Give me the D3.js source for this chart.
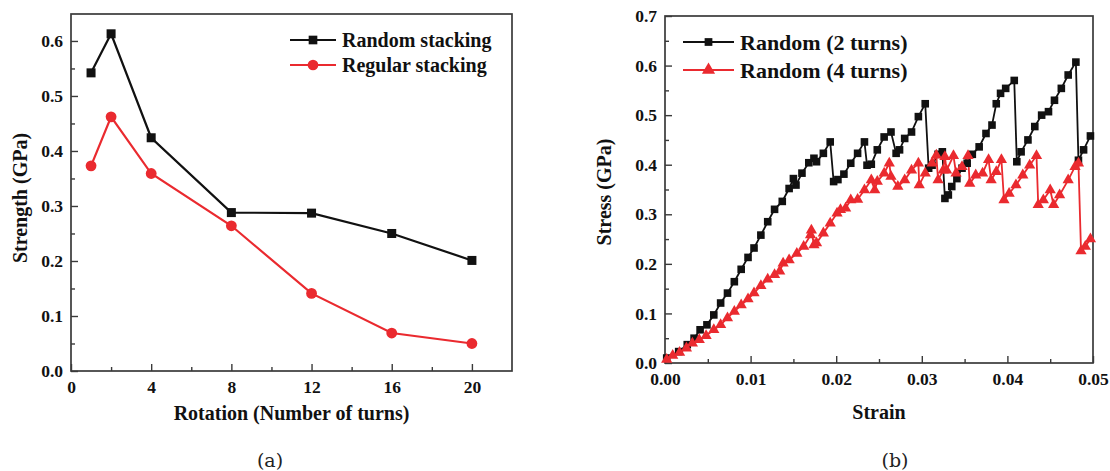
<!DOCTYPE html>
<html>
<head>
<meta charset="utf-8">
<script src="https://cdn.jsdelivr.net/npm/d3@7"></script>
<style>
  body { margin: 0; background: #fff; }
  svg { display: block; }
</style>
</head>
<body>
<script>
'use strict';

// ---- panel (a): strength vs number of turns ----
const turns = [1, 2, 4, 8, 12, 16, 20];
const randomStacking = [0.542, 0.613, 0.424, 0.288, 0.287, 0.250, 0.201];
const regularStacking = [0.373, 0.462, 0.359, 0.264, 0.141, 0.069, 0.050];
const turnTicks = [0, 4, 8, 12, 16, 20];
const turnMinorTicks = [2, 6, 10, 14, 18];
const strengthTicks = [0, 0.1, 0.2, 0.3, 0.4, 0.5, 0.6];
const strengthMinorTicks = [0.05, 0.15, 0.25, 0.35, 0.45, 0.55];

// ---- panel (b): stress-strain, [strain, stress GPa] ----
const random2Turns = [
  [0.0002, 0.010], [0.0016, 0.023], [0.0026, 0.037], [0.0034, 0.050], [0.0041, 0.067],
  [0.0049, 0.077], [0.0057, 0.097], [0.0065, 0.121], [0.0073, 0.141], [0.0081, 0.164],
  [0.0089, 0.189], [0.0097, 0.213], [0.0104, 0.232], [0.0112, 0.258], [0.0120, 0.285],
  [0.0128, 0.310], [0.0137, 0.326], [0.0145, 0.352], [0.0150, 0.372], [0.0153, 0.359],
  [0.0160, 0.383], [0.0168, 0.404], [0.0174, 0.413], [0.0177, 0.406], [0.0185, 0.423],
  [0.0193, 0.446], [0.0197, 0.366], [0.0202, 0.370], [0.0209, 0.381], [0.0217, 0.403],
  [0.0225, 0.423], [0.0233, 0.446], [0.0236, 0.399], [0.0241, 0.401], [0.0248, 0.430],
  [0.0256, 0.456], [0.0264, 0.466], [0.0270, 0.423], [0.0274, 0.430], [0.0280, 0.453],
  [0.0288, 0.466], [0.0296, 0.497], [0.0304, 0.523], [0.0308, 0.393], [0.0312, 0.399],
  [0.0319, 0.421], [0.0324, 0.426], [0.0327, 0.332], [0.0331, 0.339], [0.0335, 0.356],
  [0.0341, 0.372], [0.0347, 0.393], [0.0353, 0.403], [0.0359, 0.421], [0.0367, 0.436],
  [0.0375, 0.463], [0.0382, 0.480], [0.0387, 0.523], [0.0392, 0.544], [0.0398, 0.554],
  [0.0408, 0.570], [0.0411, 0.406], [0.0416, 0.426], [0.0424, 0.450], [0.0432, 0.477],
  [0.0440, 0.500], [0.0448, 0.507], [0.0455, 0.530], [0.0463, 0.554], [0.0471, 0.581],
  [0.0480, 0.607], [0.0483, 0.409], [0.0489, 0.430], [0.0497, 0.458]
];
const random4Turns = [
  [0.0002, 0.007], [0.0009, 0.015], [0.0017, 0.021], [0.0025, 0.030], [0.0032, 0.040],
  [0.0040, 0.047], [0.0048, 0.055], [0.0057, 0.067], [0.0065, 0.077], [0.0073, 0.091],
  [0.0081, 0.104], [0.0089, 0.117], [0.0097, 0.129], [0.0104, 0.141], [0.0112, 0.156],
  [0.0120, 0.169], [0.0128, 0.178], [0.0134, 0.185], [0.0138, 0.201], [0.0145, 0.208],
  [0.0154, 0.221], [0.0162, 0.235], [0.0170, 0.258], [0.0171, 0.268], [0.0174, 0.238],
  [0.0177, 0.242], [0.0185, 0.262], [0.0193, 0.282], [0.0201, 0.302], [0.0205, 0.309],
  [0.0211, 0.312], [0.0217, 0.329], [0.0225, 0.330], [0.0233, 0.349], [0.0241, 0.369],
  [0.0245, 0.349], [0.0248, 0.366], [0.0256, 0.383], [0.0262, 0.403], [0.0264, 0.376],
  [0.0272, 0.356], [0.0280, 0.369], [0.0288, 0.389], [0.0296, 0.403], [0.0297, 0.359],
  [0.0304, 0.383], [0.0312, 0.403], [0.0317, 0.419], [0.0319, 0.369], [0.0325, 0.389],
  [0.0327, 0.416], [0.0329, 0.389], [0.0337, 0.418], [0.0340, 0.383], [0.0347, 0.396],
  [0.0354, 0.418], [0.0356, 0.362], [0.0363, 0.379], [0.0371, 0.383], [0.0378, 0.410],
  [0.0381, 0.369], [0.0387, 0.386], [0.0393, 0.410], [0.0396, 0.329], [0.0402, 0.342],
  [0.0410, 0.359], [0.0418, 0.379], [0.0426, 0.399], [0.0434, 0.418], [0.0436, 0.319],
  [0.0442, 0.329], [0.0450, 0.349], [0.0454, 0.319], [0.0461, 0.339], [0.0471, 0.369],
  [0.0479, 0.396], [0.0483, 0.403], [0.0486, 0.226], [0.0491, 0.235], [0.0497, 0.250]
];
const strainTicks = [0, 0.01, 0.02, 0.03, 0.04, 0.05];
const strainMinorTicks = [0.005, 0.015, 0.025, 0.035, 0.045];
const stressTicks = [0, 0.1, 0.2, 0.3, 0.4, 0.5, 0.6, 0.7];
const stressMinorTicks = [0.05, 0.15, 0.25, 0.35, 0.45, 0.55, 0.65];

(function() {
  const SERIF = '"Liberation Serif", "Times New Roman", serif';
  const RED = '#ea2a2f';
  const AXIS = '#3a3a3a';

  const svg = d3.select('body').append('svg')
    .attr('width', 1110)
    .attr('height', 471);

  svg.append('rect').attr('width', 1110).attr('height', 471).attr('fill', '#fff');

  // draw framed axes with inward ticks
  function drawAxes(box, xScale, yScale, ticks) {
    const g = svg.append('g');

    g.append('g')
      .attr('transform', `translate(0, ${box.bottom})`)
      .call(d3.axisBottom(xScale).tickValues(ticks.xMinor).tickSizeInner(-4).tickSizeOuter(0).tickFormat(''));
    g.append('g')
      .attr('transform', `translate(0, ${box.bottom})`)
      .call(d3.axisBottom(xScale).tickValues(ticks.x).tickSizeInner(-7).tickSizeOuter(0)
        .tickPadding(10).tickFormat(ticks.xFmt));

    g.append('g')
      .attr('transform', `translate(${box.left}, 0)`)
      .call(d3.axisLeft(yScale).tickValues(ticks.yMinor).tickSizeInner(-4).tickSizeOuter(0).tickFormat(''));
    g.append('g')
      .attr('transform', `translate(${box.left}, 0)`)
      .call(d3.axisLeft(yScale).tickValues(ticks.y).tickSizeInner(-7).tickSizeOuter(0)
        .tickPadding(8).tickFormat(ticks.yFmt));

    g.selectAll('.domain').remove();
    g.selectAll('.tick line').attr('stroke', AXIS).attr('stroke-width', 1.4);
    g.selectAll('.tick text')
      .attr('fill', '#111')
      .style('font-family', SERIF)
      .style('font-weight', 'bold')
      .style('font-size', '17.5px');

    g.append('rect')
      .attr('x', box.left)
      .attr('y', box.top)
      .attr('width', box.right - box.left)
      .attr('height', box.bottom - box.top)
      .attr('fill', 'none')
      .attr('stroke', AXIS)
      .attr('stroke-width', 1.7);
  }

  function axisTitle(text, x, y, rotate) {
    svg.append('text')
      .attr('transform', `translate(${x}, ${y})` + (rotate ? 'rotate(-90)' : ''))
      .attr('text-anchor', 'middle')
      .style('font-family', SERIF)
      .style('font-weight', 'bold')
      .style('font-size', '20px')
      .attr('fill', '#111')
      .text(text);
  }

  function panelLabel(text, x, y) {
    svg.append('text')
      .attr('x', x)
      .attr('y', y)
      .attr('text-anchor', 'middle')
      .style('font-family', '"DejaVu Serif", serif')
      .style('font-size', '19px')
      .attr('fill', '#222')
      .text(text);
  }

  function legendRow(x0, x1, y, color, symbol, label, fontSize) {
    svg.append('line')
      .attr('x1', x0).attr('x2', x1)
      .attr('y1', y).attr('y2', y)
      .attr('stroke', color)
      .attr('stroke-width', 2);
    svg.append('path')
      .attr('d', symbol)
      .attr('transform', `translate(${(x0 + x1) / 2}, ${y})`)
      .attr('fill', color);
    svg.append('text')
      .attr('x', x1 + 6)
      .attr('y', y)
      .attr('dy', '0.35em')
      .style('font-family', SERIF)
      .style('font-weight', 'bold')
      .style('font-size', fontSize)
      .attr('fill', '#111')
      .text(label);
  }

  // ---------- panel (a) ----------
  const boxA = { left: 71, right: 512, top: 14, bottom: 371 };
  const xA = d3.scaleLinear().domain([0, 22]).range([boxA.left, boxA.right]);
  const yA = d3.scaleLinear().domain([0, 0.649]).range([boxA.bottom, boxA.top]);

  drawAxes(boxA, xA, yA, {
    x: turnTicks, xMinor: turnMinorTicks, xFmt: d3.format('d'),
    y: strengthTicks, yMinor: strengthMinorTicks, yFmt: d3.format('.1f')
  });

  const lineA = d3.line().x((d) => xA(d[0])).y((d) => yA(d[1]));
  const randomPts = turns.map((t, i) => [t, randomStacking[i]]);
  const regularPts = turns.map((t, i) => [t, regularStacking[i]]);

  svg.append('path').datum(randomPts)
    .attr('d', lineA).attr('fill', 'none').attr('stroke', '#111').attr('stroke-width', 2.2);
  svg.append('path').datum(regularPts)
    .attr('d', lineA).attr('fill', 'none').attr('stroke', RED).attr('stroke-width', 2.2);

  svg.selectAll('.sq-a').data(randomPts).enter().append('rect')
    .attr('x', (d) => xA(d[0]) - 4.5)
    .attr('y', (d) => yA(d[1]) - 4.5)
    .attr('width', 9).attr('height', 9)
    .attr('fill', '#111');
  svg.selectAll('.ci-a').data(regularPts).enter().append('circle')
    .attr('cx', (d) => xA(d[0]))
    .attr('cy', (d) => yA(d[1]))
    .attr('r', 5.4)
    .attr('fill', RED);

  legendRow(290, 336, 40, '#111', d3.symbol(d3.symbolSquare, 75)(), 'Random stacking', '20px');
  legendRow(290, 336, 65, RED, d3.symbol(d3.symbolCircle, 90)(), 'Regular stacking', '20px');

  axisTitle('Rotation (Number of turns)', (boxA.left + boxA.right) / 2, 420, false);
  axisTitle('Strength (GPa)', 27, 198, true);
  panelLabel('(a)', 270, 467);

  // ---------- panel (b) ----------
  const boxB = { left: 665, right: 1093, top: 16, bottom: 363 };
  const xB = d3.scaleLinear().domain([0, 0.05]).range([boxB.left, boxB.right]);
  const yB = d3.scaleLinear().domain([0, 0.7]).range([boxB.bottom, boxB.top]);

  drawAxes(boxB, xB, yB, {
    x: strainTicks, xMinor: strainMinorTicks, xFmt: d3.format('.2f'),
    y: stressTicks, yMinor: stressMinorTicks, yFmt: d3.format('.1f')
  });

  const lineB = d3.line().x((d) => xB(d[0])).y((d) => yB(d[1]));

  svg.append('path').datum(random2Turns)
    .attr('d', lineB).attr('fill', 'none').attr('stroke', '#111').attr('stroke-width', 1.8);
  svg.append('path').datum(random4Turns)
    .attr('d', lineB).attr('fill', 'none').attr('stroke', RED).attr('stroke-width', 1.8);

  svg.selectAll('.sq-b').data(random2Turns).enter().append('rect')
    .attr('x', (d) => xB(d[0]) - 3.8)
    .attr('y', (d) => yB(d[1]) - 3.8)
    .attr('width', 7.6).attr('height', 7.6)
    .attr('fill', '#111');
  const tri = d3.symbol(d3.symbolTriangle, 55)();
  svg.selectAll('.tr-b').data(random4Turns).enter().append('path')
    .attr('d', tri)
    .attr('transform', (d) => `translate(${xB(d[0])}, ${yB(d[1])})`)
    .attr('fill', RED);

  legendRow(683, 734, 42, '#111', d3.symbol(d3.symbolSquare, 60)(), 'Random (2 turns)', '22px');
  legendRow(683, 734, 70, RED, d3.symbol(d3.symbolTriangle, 75)(), 'Random (4 turns)', '22px');

  axisTitle('Strain', (boxB.left + boxB.right) / 2, 419, false);
  axisTitle('Stress (GPa)', 611, 192, true);
  panelLabel('(b)', 895, 467);
})();
</script>
</body>
</html>
